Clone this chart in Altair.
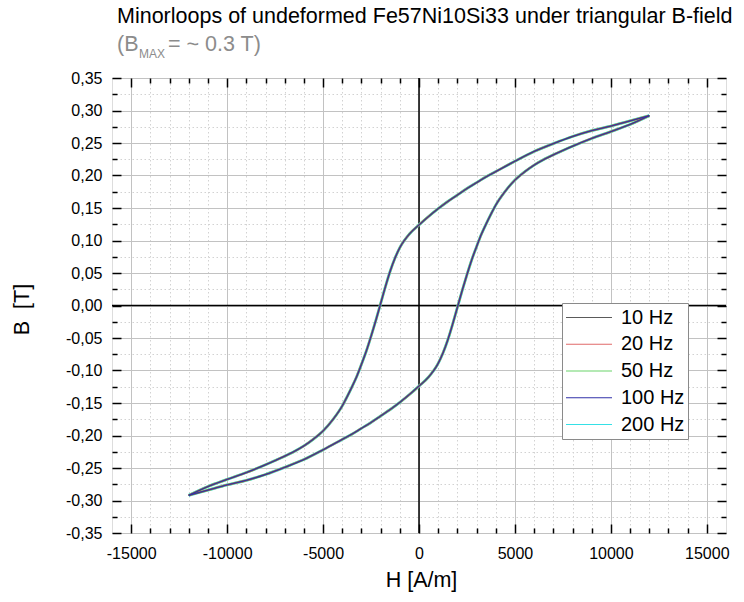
import altair as alt
import pandas as pd

FONT = "Liberation Sans"

title_text = ["Minorloops of undeformed Fe57Ni10Si33 under triangular B-field"]
sub_a = ["(B"]
sub_sub = ["MAX"]
sub_b = ["= ~ 0.3 T)"]

freqs = ["10 Hz", "20 Hz", "50 Hz", "100 Hz", "200 Hz"]
colors = ["#5a5a5a", "#e06a6a", "#6ad46a", "#3030a8", "#35e0e6"]

# descending branch (upper / left curve), H from +12000 to -12000
H_desc = [12000, 11000, 10000, 9000, 8000, 7000, 6000, 5000, 4000, 3500, 3000, 2500, 2000,
          1500, 1000, 500, 0, -500, -1000, -1250, -1500, -1750, -2000, -2250, -2500,
          -2750, -3000, -3250, -3500, -3750, -4000, -4500, -5000, -5500, -6000, -6500, -7000,
          -7500, -8000, -9000, -10000, -11000, -12000]
B_desc = [0.292, 0.284, 0.276, 0.269, 0.260, 0.249, 0.237, 0.222, 0.206, 0.198, 0.189, 0.180, 0.170,
          0.160, 0.149, 0.137, 0.124, 0.110, 0.089, 0.073, 0.053, 0.029, 0.003, -0.023, -0.0475,
          -0.0705, -0.0905, -0.1095, -0.1255, -0.1405, -0.1545, -0.176, -0.193, -0.2055, -0.216, -0.2245, -0.2318,
          -0.2385, -0.245, -0.257, -0.2675, -0.2785, -0.292]

# ascending branch (lower / right curve), H from -12000 to +12000
H_asc = [-12000, -11000, -10000, -9000, -8000, -7000, -6000, -5000, -4000, -3500, -3000, -2500, -2000,
         -1500, -1000, -500, 0, 500, 1000, 1250, 1500, 1750, 2000, 2250, 2500,
         2750, 3000, 3250, 3500, 3750, 4000, 4500, 5000, 5500, 6000, 6500, 7000,
         7500, 8000, 9000, 10000, 11000, 12000]
B_asc = [-0.292, -0.284, -0.276, -0.269, -0.260, -0.249, -0.237, -0.222, -0.206, -0.198, -0.189, -0.180, -0.170,
         -0.160, -0.149, -0.137, -0.124, -0.110, -0.089, -0.073, -0.053, -0.029, -0.003, 0.023, 0.0475,
         0.0705, 0.0905, 0.1095, 0.1255, 0.1405, 0.1545, 0.176, 0.193, 0.2055, 0.216, 0.2245, 0.2318,
         0.2385, 0.245, 0.257, 0.2675, 0.2785, 0.292]

zero_h = [0]
zero_b = [0]

rows = []
for f in freqs:
    for h, b in zip(H_desc, B_desc):
        rows.append({"freq": f, "branch": "desc", "H": h, "B": b})
    for h, b in zip(H_asc, B_asc):
        rows.append({"freq": f, "branch": "asc", "H": h, "B": b})
df = pd.DataFrame(rows)

W, H = 614, 455
xs = alt.Scale(domain=[-16000, 16000], nice=False, zero=False)
ys = alt.Scale(domain=[-0.35, 0.35], nice=False, zero=False)

x_vals = list(range(-15000, 15001, 1000))
y_vals = [round(-0.35 + 0.025 * i, 3) for i in range(29)]

x_major = "datum.value % 5000 === 0"
y_major = "abs(round(datum.value * 1000)) % 50 === 0"

x_main_axis = alt.Axis(
    orient="bottom", values=x_vals, domain=False, ticks=False, tickSize=0,
    labelExpr=f"{x_major} ? '' + datum.value : ''",
    labelOverlap=False, labelFlush=False, labelFontSize=16, labelPadding=12,
    labelColor="black", labelFont=FONT,
    grid=True,
    gridColor={"condition": {"test": x_major, "value": "#c2c2c2"}, "value": "#d2d2d2"},
    gridDash={"condition": {"test": x_major, "value": []}, "value": [1.5, 2.5]},
    gridWidth=1,
    title="H [A/m]", titleFontSize=21.5, titleFontWeight="normal", titleFont=FONT,
    titleColor="black", titleX=309, titleY=53, titleBaseline="alphabetic",
)
y_main_axis = alt.Axis(
    orient="left", values=y_vals, domain=False, ticks=False, tickSize=0,
    labelExpr=f"{y_major} ? (datum.value < -0.0001 ? '-' : '') + replace(format(abs(datum.value), '.2f'), '.', ',') : ''",
    labelOverlap=False, labelFlush=False, labelFontSize=16, labelPadding=10,
    labelColor="black", labelFont=FONT,
    grid=True,
    gridColor={"condition": {"test": y_major, "value": "#c2c2c2"}, "value": "#d2d2d2"},
    gridDash={"condition": {"test": y_major, "value": []}, "value": [1.5, 2.5]},
    gridWidth=1,
    title="B\u00a0 [T]", titleFontSize=21.5, titleFontWeight="normal", titleFont=FONT,
    titleColor="black", titleX=-84, titleY=231, titleAngle=270, titleBaseline="alphabetic",
    titleAlign="center",
)


def tick_axis(orient, offset, vals, test):
    return alt.Axis(
        orient=orient, offset=offset, values=vals, labels=False, domain=False, grid=False,
        ticks=True, tickColor="black", tickWidth=1.5,
        tickSize={"condition": {"test": test, "value": 9}, "value": 5},
        title=None,
    )


zx_df = pd.DataFrame({"H": zero_h})
zy_df = pd.DataFrame({"B": zero_b})

zero_v = alt.Chart(zx_df).mark_rule(color="black", strokeWidth=1.5).encode(
    x=alt.X("H:Q", scale=xs, axis=x_main_axis))
zero_hz = alt.Chart(zy_df).mark_rule(color="black", strokeWidth=1.5).encode(
    y=alt.Y("B:Q", scale=ys, axis=y_main_axis))
tick_x1 = alt.Chart(zx_df).mark_rule(opacity=0).encode(
    x=alt.X("H:Q", scale=xs, axis=tick_axis("top", -H, x_vals, x_major)))
tick_x2 = alt.Chart(zx_df).mark_rule(opacity=0).encode(
    x=alt.X("H:Q", scale=xs, axis=tick_axis("bottom", -H, x_vals, x_major)))
tick_y1 = alt.Chart(zy_df).mark_rule(opacity=0).encode(
    y=alt.Y("B:Q", scale=ys, axis=tick_axis("right", -W, y_vals, y_major)))
tick_y2 = alt.Chart(zy_df).mark_rule(opacity=0).encode(
    y=alt.Y("B:Q", scale=ys, axis=tick_axis("left", -W, y_vals, y_major)))

legend = alt.Legend(
    title=None, orient="none", legendX=450, legendY=225,
    symbolType="M-1,0L1,0", symbolSize=2116, symbolStrokeWidth=1.2,
    labelFontSize=20, labelFont=FONT, labelColor="black", labelOffset=8,
    strokeColor="#8a8a8a", fillColor="white", padding=3,
    clipHeight=23, rowPadding=3.75,
)

draw_order = ["200 Hz", "50 Hz", "20 Hz", "10 Hz", "100 Hz"]
widths = {"200 Hz": 2.8, "50 Hz": 2.2, "20 Hz": 1.8, "10 Hz": 1.4, "100 Hz": 1.0}

line_layers = []
for f in draw_order:
    line_layers.append(
        alt.Chart(df).transform_filter(alt.datum.freq == f)
        .mark_line(strokeWidth=widths[f], interpolate="monotone")
        .encode(
            x=alt.X("H:Q", scale=xs, axis=None),
            y=alt.Y("B:Q", scale=ys, axis=None),
            color=alt.Color("freq:N", scale=alt.Scale(domain=freqs, range=colors), legend=legend),
            detail="branch:N",
        )
    )

t_main = alt.Chart(pd.DataFrame({"t": title_text})).mark_text(
    align="left", baseline="alphabetic", fontSize=21.5, font=FONT, color="black"
).encode(x=alt.value(5), y=alt.value(-55), text="t:N")
t_a = alt.Chart(pd.DataFrame({"t": sub_a})).mark_text(
    align="left", baseline="alphabetic", fontSize=21.5, font=FONT, color="#8c8c8c"
).encode(x=alt.value(5), y=alt.value(-27), text="t:N")
t_s = alt.Chart(pd.DataFrame({"t": sub_sub})).mark_text(
    align="left", baseline="alphabetic", fontSize=12, font=FONT, color="#8c8c8c"
).encode(x=alt.value(27), y=alt.value(-20), text="t:N")
t_b = alt.Chart(pd.DataFrame({"t": sub_b})).mark_text(
    align="left", baseline="alphabetic", fontSize=21.5, font=FONT, color="#8c8c8c"
).encode(x=alt.value(56), y=alt.value(-27), text="t:N")

chart = alt.layer(
    zero_v, zero_hz, tick_x1, tick_x2, tick_y1, tick_y2, *line_layers, t_main, t_a, t_s, t_b
).resolve_axis(x="independent", y="independent").properties(
    width=W, height=H, autosize="none",
    padding={"left": 112, "top": 78, "right": 18, "bottom": 69},
).configure_view(stroke="black", strokeWidth=2).configure(background="white")

chart.save("out.html", embed_options={"renderer": "svg", "actions": False})
